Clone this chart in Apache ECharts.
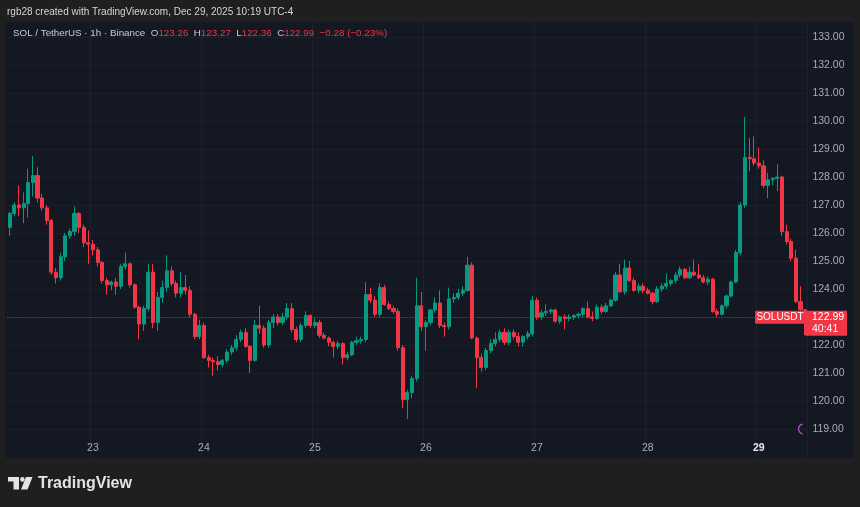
<!DOCTYPE html>
<html><head><meta charset="utf-8">
<script src="https://cdn.jsdelivr.net/npm/echarts@6/dist/echarts.min.js"></script>
<style>html,body{margin:0;padding:0;background:#1f1f1f;}#c{width:860px;height:507px;}</style>
</head><body><div id="c"></div>
<script>
// ---- data ----
const startUTC = Date.UTC(2025, 11, 22, 6); // first hourly candle: Dec 22 06:00
// [open, high, low, close]
const candles = [
[126.20,126.75,125.90,126.70],[126.70,127.10,126.60,127.00],[127.00,127.70,126.60,126.90],[126.90,127.45,126.35,127.05],
[127.05,128.30,126.55,127.80],[127.80,128.75,127.30,128.05],[128.05,128.35,127.10,127.25],[127.25,127.40,126.80,126.90],
[126.90,127.00,126.30,126.45],[126.45,126.50,124.50,124.60],[124.60,124.75,124.20,124.40],[124.40,125.30,124.30,125.15],
[125.15,126.00,125.00,125.90],[125.90,126.15,125.80,126.05],[126.05,126.95,125.90,126.70],[126.70,126.75,126.00,126.20],
[126.20,126.30,125.50,125.65],[125.65,126.10,124.90,125.60],[125.60,125.75,125.20,125.40],[125.40,125.50,124.80,124.95],
[124.95,125.00,124.20,124.30],[124.30,124.40,123.80,124.15],[124.15,124.30,123.95,124.25],[124.25,124.40,123.80,124.10],
[124.10,124.90,124.00,124.80],[124.80,125.30,124.70,124.90],[124.90,124.95,124.05,124.15],[124.15,124.20,123.30,123.35],
[123.35,123.40,122.20,122.75],[122.75,123.40,122.50,123.30],[123.30,124.90,123.20,124.60],[124.60,124.90,122.60,122.80],
[122.80,123.90,122.50,123.70],[123.70,124.30,123.50,124.05],[124.05,125.20,123.90,124.65],[124.65,124.80,124.10,124.20],
[124.20,124.30,123.70,123.85],[123.85,124.60,123.70,124.05],[124.05,124.50,123.80,123.95],[123.95,124.10,123.00,123.10],
[123.10,123.15,122.20,122.30],[122.30,122.90,122.20,122.70],[122.70,122.80,121.50,121.55],[121.55,121.65,121.20,121.45],
[121.45,121.55,120.90,121.40],[121.40,121.60,121.10,121.30],[121.30,121.50,121.20,121.45],[121.45,121.85,121.35,121.75],
[121.75,122.00,121.65,121.90],[121.90,122.35,121.80,122.20],[122.20,122.55,122.10,122.45],[122.45,122.60,121.90,121.95],
[121.95,122.00,121.00,121.45],[121.45,122.90,121.40,122.70],[122.70,123.40,122.40,122.60],[122.60,122.70,121.90,122.00],
[122.00,122.90,121.90,122.80],[122.80,123.10,122.60,123.00],[123.00,123.10,122.70,122.80],[122.80,123.15,122.70,123.00],
[123.00,123.50,122.90,123.30],[123.30,123.50,122.45,122.55],[122.55,122.65,122.10,122.20],[122.20,122.80,122.10,122.70],
[122.70,123.20,122.60,123.05],[123.05,123.10,122.60,122.70],[122.70,122.95,122.60,122.80],[122.80,122.90,122.25,122.35],
[122.35,122.45,122.20,122.25],[122.25,122.30,121.95,122.10],[122.10,122.15,121.55,121.95],[121.95,122.15,121.85,122.05],
[122.05,122.10,121.30,121.55],[121.55,121.75,121.45,121.65],[121.65,122.15,121.60,122.10],[122.10,122.30,122.00,122.15],
[122.15,122.30,122.05,122.20],[122.20,124.25,122.10,123.80],[123.80,124.05,123.50,123.60],[123.60,123.75,123.00,123.10],
[123.10,124.20,123.00,124.05],[124.05,124.15,123.40,123.45],[123.45,123.55,123.25,123.30],[123.30,123.40,123.10,123.20],
[123.20,123.30,121.80,121.90],[121.90,122.00,119.75,120.05],[120.05,120.40,119.35,120.30],[120.30,120.90,120.10,120.80],
[120.80,124.40,120.70,123.40],[123.40,123.90,122.50,122.65],[122.65,122.90,121.80,122.80],[122.80,123.30,122.70,123.25],
[123.25,123.70,123.15,123.50],[123.50,123.95,122.60,122.70],[122.70,122.80,122.30,122.65],[122.65,124.05,122.55,123.65],
[123.65,123.85,123.50,123.70],[123.70,124.00,123.60,123.85],[123.85,124.10,123.75,123.95],[123.95,125.15,123.90,124.85],
[124.85,124.95,122.20,122.25],[122.25,122.30,120.45,121.55],[121.55,121.70,121.05,121.20],[121.20,121.90,121.10,121.80],
[121.80,122.20,121.70,122.05],[122.05,122.45,121.95,122.20],[122.20,122.55,122.10,122.45],[122.45,122.60,122.00,122.10],
[122.10,122.55,122.00,122.45],[122.45,122.55,122.20,122.30],[122.30,122.45,121.95,122.10],[122.10,122.35,121.95,122.30],
[122.30,122.50,122.20,122.40],[122.40,123.75,122.30,123.60],[123.60,123.70,122.90,123.00],[123.00,123.25,122.90,123.15],
[123.15,123.45,123.05,123.20],[123.20,123.30,123.10,123.25],[123.25,123.30,122.80,122.85],[122.85,123.05,122.75,123.00],
[123.00,123.10,122.55,122.95],[122.95,123.10,122.85,123.00],[123.00,123.10,122.90,123.05],[123.05,123.15,122.95,123.10],
[123.10,123.35,123.00,123.30],[123.30,123.55,122.95,123.00],[123.00,123.20,122.85,122.95],[122.95,123.45,122.90,123.35],
[123.35,123.45,123.10,123.20],[123.20,123.50,123.15,123.40],[123.40,123.65,123.35,123.60],[123.60,124.60,123.55,124.50],
[124.50,124.90,123.85,123.90],[123.90,125.05,123.80,124.75],[124.75,125.00,124.25,124.30],[124.30,124.40,123.90,123.95],
[123.95,124.20,123.85,124.10],[124.10,124.20,123.85,123.95],[123.95,124.05,123.80,123.85],[123.85,123.90,123.45,123.55],
[123.55,124.10,123.50,124.00],[124.00,124.20,123.90,124.10],[124.10,124.55,124.00,124.20],[124.20,124.35,124.10,124.30],
[124.30,124.60,124.20,124.50],[124.50,124.80,124.40,124.70],[124.70,124.75,124.35,124.40],[124.40,124.80,124.35,124.60],
[124.60,125.05,124.45,124.50],[124.50,124.90,124.35,124.40],[124.40,124.50,124.20,124.25],[124.25,124.45,124.15,124.35],
[124.35,124.40,123.15,123.20],[123.20,123.30,123.00,123.10],[123.10,123.45,123.05,123.40],[123.40,123.80,123.30,123.75],
[123.75,124.30,123.70,124.25],[124.25,125.40,124.20,125.30],[125.30,127.10,125.20,127.00],[127.00,130.15,126.90,128.70],
[128.70,129.40,128.20,128.65],[128.65,129.45,128.40,128.50],[128.50,129.05,128.30,128.40],[128.40,128.60,127.60,127.70],
[127.70,128.15,127.25,127.90],[127.90,128.00,127.70,127.95],[127.95,128.45,127.50,128.00],[128.00,128.05,125.90,126.05],
[126.05,126.30,125.60,125.70],[125.70,125.80,125.00,125.10],[125.10,125.40,123.50,123.55],[123.55,124.10,123.10,123.26],
[123.26,123.27,122.36,122.99]
];
const legendOHLC = {O:'123.26', H:'123.27', L:'122.36', C:'122.99'};
const changeText = '\u22120.28 (\u22120.23%)';
const lastPrice = 122.99;
const countdown = '40:41';
const symbolLabel = 'SOLUSDT';
const headerText = 'rgb28 created with TradingView.com, Dec 29, 2025 10:19 UTC-4';
const titleText = 'SOL / TetherUS \u00b7 1h \u00b7 Binance';
const boldDay = 29;

// ---- categories (hourly) ----
const days = [], hours = [], cats = [];
for (let i = 0; i < candles.length; i++) {
  const d = new Date(startUTC + i * 3600e3);
  days.push(d.getUTCDate()); hours.push(d.getUTCHours());
  cats.push('Dec ' + d.getUTCDate() + ' ' + String(d.getUTCHours()).padStart(2,'0') + ':00');
}
const seriesData = candles.map(c => [c[0], c[3], c[2], c[1]]);

const UP = '#089981', DOWN = '#f23645';
const FONT = 'Liberation Sans, Arial, sans-serif';
const isMidnight = (i) => hours[i] === 0;

const chart = echarts.init(document.getElementById('c'), null, {renderer: 'canvas'});
chart.setOption({
  backgroundColor: '#1f1f1f',
  animation: false,
  grid: {left: 7.4, right: 52.6, top: 9, bottom: 50},
  xAxis: {
    type: 'category', data: cats, boundaryGap: true,
    axisLine: {show: false}, axisTick: {show: false},
    axisLabel: {
      inside: true, margin: 3, interval: (i) => isMidnight(i),
      formatter: (v, i) => days[i] === boldDay ? '{b|' + days[i] + '}' : '{a|' + days[i] + '}',
      rich: {a: {color: '#a9acb5', fontSize: 10.5, fontFamily: FONT},
             b: {color: '#e6e8ee', fontSize: 10.5, fontWeight: 'bold', fontFamily: FONT}}
    },
    splitLine: {show: true, interval: (i) => isMidnight(i), lineStyle: {color: 'rgba(255,255,255,0.04)', width: 1}}
  },
  yAxis: {
    type: 'value', position: 'right', min: 118, max: 134, interval: 1,
    axisLine: {show: false}, axisTick: {show: false},
    axisLabel: {margin: 5, color: '#a9acb5', fontSize: 10.5, fontFamily: FONT,
      showMinLabel: false, showMaxLabel: false, formatter: v => v.toFixed(2)},
    splitLine: {show: true, showMinLine: false, showMaxLine: false, lineStyle: {color: 'rgba(255,255,255,0.035)', width: 1}}
  },
  series: [{
    type: 'candlestick', data: seriesData, barWidth: 3.6,
    itemStyle: {color: UP, color0: DOWN, borderColor: UP, borderColor0: DOWN, borderWidth: 1},
    markLine: {
      symbol: 'none', silent: true, animation: false, label: {show: false},
      lineStyle: {color: DOWN, type: [1, 2], width: 1, opacity: 0.85},
      data: [{yAxis: lastPrice}]
    }
  }]
});

const py = chart.convertToPixel({yAxisIndex: 0}, lastPrice);

chart.setOption({
  graphic: [
    {type: 'rect', z: -10, shape: {x: 5, y: 22, width: 849, height: 436, r: 3}, style: {fill: '#141823'}},
    {type: 'rect', z: 100, shape: {x: 0, y: 0, width: 860, height: 22}, style: {fill: '#1f1f1f'}},
    {type: 'text', z: 101, x: 7, y: 12, style: {text: headerText, fill: '#d1d4dc', fontSize: 10, fontFamily: FONT, verticalAlign: 'middle'}},
    {type: 'text', z: 101, x: 13, y: 33, style: {
      text: '{t|' + titleText + '}  {k|O}{v|' + legendOHLC.O + '}  {k|H}{v|' + legendOHLC.H + '}  {k|L}{v|' + legendOHLC.L + '}  {k|C}{v|' + legendOHLC.C + '}  {v|' + changeText + '}',
      verticalAlign: 'middle', fontSize: 9.8, fontFamily: FONT,
      rich: {t: {fill: '#c9ccd4', fontSize: 9.8, fontFamily: FONT},
             k: {fill: '#c9ccd4', fontSize: 9.8, fontFamily: FONT},
             v: {fill: '#f23645', fontSize: 9.8, fontFamily: FONT}}
    }},
    {type: 'rect', z: 50, shape: {x: 755, y: py - 6.5, width: 50, height: 13, r: 1}, style: {fill: DOWN}},
    {type: 'text', z: 51, x: 780, y: py, style: {text: symbolLabel, fill: '#ffffff', fontSize: 10, fontFamily: FONT, align: 'center', verticalAlign: 'middle'}},
    {type: 'rect', z: 50, shape: {x: 805, y: py - 6.5, width: 42, height: 25}, style: {fill: DOWN}},
    {type: 'text', z: 51, x: 812, y: py, style: {text: lastPrice.toFixed(2), fill: '#ffffff', fontSize: 10.5, fontFamily: FONT, verticalAlign: 'middle'}},
    {type: 'text', z: 51, x: 812, y: py + 12, style: {text: countdown, fill: '#ffffff', fontSize: 10.5, fontFamily: FONT, verticalAlign: 'middle'}},
    {type: 'arc', z: 51, shape: {cx: 803.5, cy: 429, r: 5, startAngle: Math.PI * 0.55, endAngle: Math.PI * 1.45}, style: {stroke: '#b451c9', lineWidth: 1.3, fill: null}},
    // TradingView logo
    {type: 'rect', shape: {x: 8, y: 477, width: 11, height: 4.5}, style: {fill: '#e4e4e4'}},
    {type: 'rect', shape: {x: 13.5, y: 477, width: 5.5, height: 12.5}, style: {fill: '#e4e4e4'}},
    {type: 'circle', shape: {cx: 22.4, cy: 479.4, r: 2.3}, style: {fill: '#e4e4e4'}},
    {type: 'polygon', shape: {points: [[26, 477], [32.5, 477], [27.5, 489.5], [21, 489.5]]}, style: {fill: '#e4e4e4'}},
    {type: 'text', x: 38, y: 484, style: {text: 'TradingView', fill: '#e4e4e4', fontSize: 16, fontWeight: 'bold', fontFamily: FONT, verticalAlign: 'middle'}}
  ]
});
</script>
</body></html>
